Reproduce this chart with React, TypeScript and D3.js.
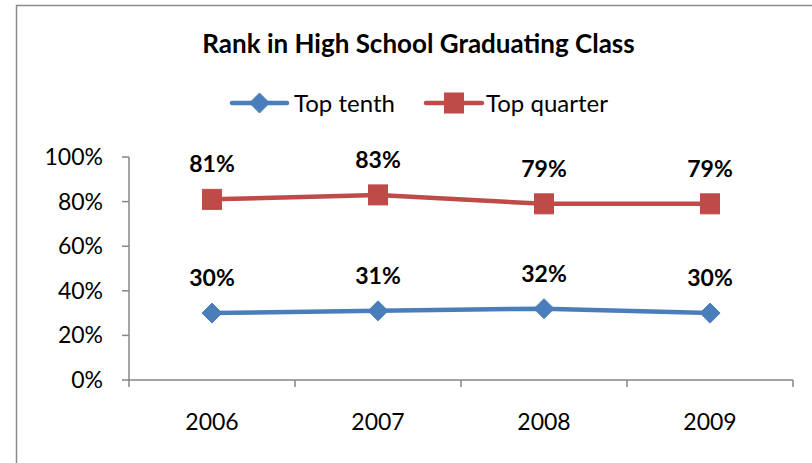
import React from "react";
import * as d3 from "d3";

const years: string[] = ["2006", "2007", "2008", "2009"];
const topTenth: number[] = [0.30, 0.31, 0.32, 0.30];
const topQuarter: number[] = [0.81, 0.83, 0.79, 0.79];
const yTicks: number[] = [0, 0.2, 0.4, 0.6, 0.8, 1.0];
const seriesNames: string[] = ["Top tenth", "Top quarter"];
const seriesColors: string[] = ["#4A7EBB", "#BE4B48"];

const FONT = "Lato, 'Noto Sans', sans-serif";

export default function App() {
  const x0 = 129, x1 = 793, yTop = 157, yBot = 380;
  const x = d3.scaleBand<string>().domain(years).range([x0, x1]);
  const y = d3.scaleLinear().domain([0, 1]).range([yBot, yTop]);
  const cx = (d: string) => (x(d) as number) + x.bandwidth() / 2;
  const line = d3.line<number>().x((_, i) => cx(years[i])).y((v) => y(v));
  const fmt = d3.format(".0%");
  const axisColor = "#868686";
  const series = [topTenth, topQuarter];

  const marker = (k: number, px: number, py: number, key: string) =>
    k === 0 ? (
      <path key={key} d={`M${px},${py - 10}L${px + 10},${py}L${px},${py + 10}L${px - 10},${py}Z`} fill={seriesColors[0]} stroke={seriesColors[0]} strokeWidth={1} />
    ) : (
      <rect key={key} x={px - 9.5} y={py - 10} width={19} height={20} fill={seriesColors[1]} stroke={seriesColors[1]} strokeWidth={1} />
    );

  const legendItems = [
    { lx0: 232, lx1: 287, tx: 294 },
    { lx0: 426, lx1: 482, tx: 486 },
  ];

  return (
    <svg width={812} height={463} style={{ position: "absolute", left: 0, top: 0, background: "#fff" }} fontFamily={FONT}>
      <rect x={16.5} y={5.5} width={830} height={480} fill="#fff" stroke="#8c8c8c" strokeWidth={1.5} />
      <text x={418.5} y={53} textAnchor="middle" fontSize={26} fontWeight="bold" fill="#000">Rank in High School Graduating Class</text>
      {legendItems.map((it, k) => (
        <g key={k}>
          <line x1={it.lx0} x2={it.lx1} y1={103} y2={103} stroke={seriesColors[k]} strokeWidth={4.5} strokeLinecap="round" />
          {marker(k, (it.lx0 + it.lx1) / 2, 103, "m" + k)}
          <text x={it.tx} y={111.5} fontSize={24} fill="#000">{seriesNames[k]}</text>
        </g>
      ))}
      {/* y axis */}
      <line x1={x0} x2={x0} y1={yTop} y2={yBot} stroke={axisColor} strokeWidth={1.5} />
      {yTicks.map((t) => (
        <g key={t}>
          <line x1={x0 - 7} x2={x0} y1={y(t)} y2={y(t)} stroke={axisColor} strokeWidth={1.5} />
          <text x={103} y={y(t) + 8} textAnchor="end" fontSize={23} fill="#000">{fmt(t)}</text>
        </g>
      ))}
      {/* x axis */}
      <line x1={x0} x2={x1} y1={yBot} y2={yBot} stroke={axisColor} strokeWidth={1.5} />
      {[...years.map((d) => x(d) as number), x1].map((p, i) => (
        <line key={i} x1={p} x2={p} y1={yBot} y2={yBot + 7} stroke={axisColor} strokeWidth={1.5} />
      ))}
      {years.map((d) => (
        <text key={d} x={cx(d)} y={430} textAnchor="middle" fontSize={23} fill="#000">{d}</text>
      ))}
      {series.map((s, k) => (
        <g key={k}>
          <path d={line(s) as string} fill="none" stroke={seriesColors[k]} strokeWidth={4.5} strokeLinejoin="round" strokeLinecap="round" />
          {s.map((v, i) => marker(k, cx(years[i]), y(v), `p${k}${i}`))}
          {s.map((v, i) => (
            <text key={`l${k}${i}`} x={cx(years[i])} y={y(v) - 27} textAnchor="middle" fontSize={23} fontWeight="bold" fill="#000">{fmt(v)}</text>
          ))}
        </g>
      ))}
    </svg>
  );
}
